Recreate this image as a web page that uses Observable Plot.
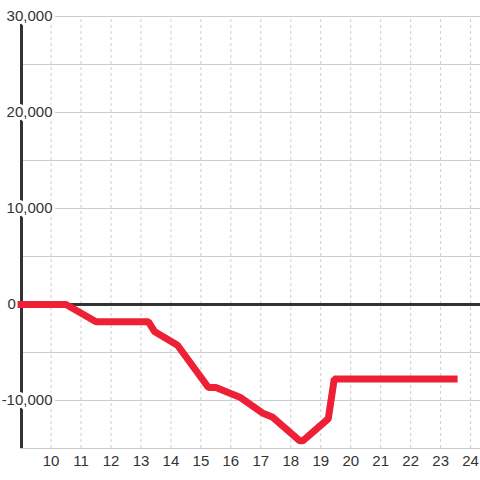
<!DOCTYPE html>
<html>
<head>
<meta charset="utf-8">
<script src="https://cdn.jsdelivr.net/npm/d3@7"></script>
<script src="https://cdn.jsdelivr.net/npm/@observablehq/plot@0.6"></script>
<style>
  html, body { margin: 0; padding: 0; background: #ffffff; }
  #chart svg { display: block; }
</style>
</head>
<body>
<div id="chart"></div>
<script>
// Data
const hours  = [9.0, 10.5, 11.5, 13.25, 13.45, 14.22, 15.25, 15.5, 16.3, 17.05, 17.4, 18.3, 18.4, 19.25, 19.45, 23.45];
const values = [0, 0, -1800, -1800, -2800, -4250, -8650, -8650, -9650, -11300, -11750, -14200, -14200, -11900, -7750, -7750];

const xTicks = [10, 11, 12, 13, 14, 15, 16, 17, 18, 19, 20, 21, 22, 23, 24];
const yGrid = [30000, 25000, 20000, 15000, 10000, 5000, 0, -5000, -10000, -15000];
const yLabelValues = [30000, 20000, 10000, -10000];
const yLabelTexts = ["30,000", "20,000", "10,000", "-10,000"];
const zeroLabel = ["0"];

const series = hours.map((h, i) => ({hour: h, value: values[i]}));
const xMin = 8.98, xMax = 24.33, yMin = -15000, yMax = 30000;

const chart = Plot.plot({
  width: 480,
  height: 480,
  marginTop: 16,
  marginBottom: 32,
  marginLeft: 20,
  marginRight: 0,
  x: {domain: [xMin, xMax], axis: null},
  y: {domain: [yMin, yMax], axis: null},
  style: {fontFamily: "'Liberation Sans', Arial, sans-serif", background: "#ffffff"},
  marks: [
    Plot.ruleY(yGrid, {stroke: "#cccccc", strokeWidth: 1}),
    Plot.ruleX(xTicks, {y1: yMin, y2: yMax, stroke: "#cccccc", strokeWidth: 1, strokeDasharray: "3,3"}),
    Plot.ruleX([xMin], {y1: yMin, y2: yMax, stroke: "#333333", strokeWidth: 3, dx: 1}),
    Plot.ruleY([0], {stroke: "#333333", strokeWidth: 3}),
    Plot.text(yLabelValues, {
      x: () => xMin, y: d => d, text: (d, i) => yLabelTexts[i],
      dx: 32, textAnchor: "end", lineAnchor: "middle",
      fontSize: 15, fill: "#333333", stroke: "#ffffff", strokeWidth: 6
    }),
    Plot.text(zeroLabel, {
      x: () => xMin, y: () => 0, text: d => d,
      dx: -13, textAnchor: "start", lineAnchor: "middle",
      fontSize: 15, fill: "#333333", stroke: "#ffffff", strokeWidth: 4
    }),
    Plot.text(xTicks, {
      x: d => d, y: () => yMin, text: d => String(d),
      dy: 13, lineAnchor: "middle", fontSize: 15, fill: "#333333"
    }),
    Plot.line(series, {
      x: "hour", y: "value", stroke: "#ed2036", strokeWidth: 7,
      strokeLinecap: "square", strokeLinejoin: "miter"
    })
  ]
});
document.getElementById("chart").appendChild(chart);
</script>
</body>
</html>
